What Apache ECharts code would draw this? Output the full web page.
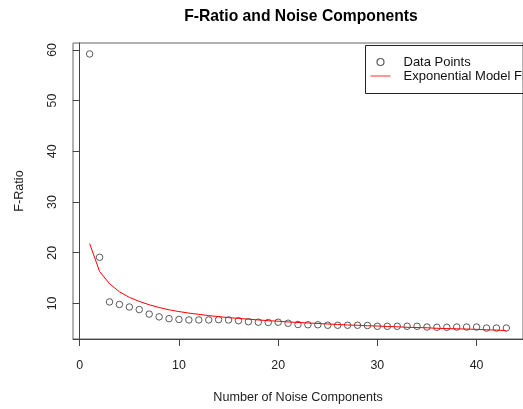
<!DOCTYPE html>
<html>
<head>
<meta charset="utf-8">
<script src="https://cdn.jsdelivr.net/npm/echarts@6/dist/echarts.min.js"></script>
<style>html,body{margin:0;padding:0;background:#fff;}#c{width:523px;height:409px;}</style>
</head>
<body>
<div id="c"></div>
<script>
const components = [1,2,3,4,5,6,7,8,9,10,11,12,13,14,15,16,17,18,19,20,21,22,23,24,25,26,27,28,29,30,31,32,33,34,35,36,37,38,39,40,41,42,43];
const fRatio = [59.2,19.1,10.3,9.8,9.3,8.8,7.9,7.35,7.0,6.85,6.75,6.75,6.75,6.8,6.75,6.6,6.4,6.3,6.25,6.3,6.1,5.85,5.8,5.8,5.7,5.7,5.7,5.7,5.65,5.5,5.5,5.5,5.5,5.5,5.35,5.3,5.3,5.35,5.35,5.35,5.15,5.15,5.15];
const modelFit = [21.8,16.3,13.9,12.3,11.2,10.4,9.75,9.2,8.75,8.4,8.1,7.85,7.6,7.4,7.2,7.05,6.9,6.75,6.6,6.5,6.35,6.25,6.15,6.05,5.95,5.85,5.75,5.7,5.6,5.55,5.45,5.4,5.3,5.25,5.2,5.1,5.05,5.0,4.95,4.9,4.8,4.75,4.65];
const xTicks = [0,10,20,30,40];
const yTicks = [10,20,30,40,50,60];
const seriesNames = ['Data Points','Exponential Model Fit'];

const chart = echarts.init(document.getElementById('c'), null, {renderer:'canvas'});
const font = 'Liberation Sans, Arial, sans-serif';
const axisCol = '#444';
chart.setOption({
  animation: false,
  backgroundColor: '#fff',
  title: {
    text: 'F-Ratio and Noise Components',
    left: 296, top: 4, textAlign: 'center',
    textStyle: {fontFamily: font, fontSize: 15.7, fontWeight: 'bold', color: '#000'}
  },
  grid: {left: 73, top: 43, right: -7, bottom: 65.7, show: true, borderColor: '#666', borderWidth: 1, containLabel: false},
  xAxis: {
    type: 'value', min: -0.68, max: 44.68,
    name: 'Number of Noise Components', nameLocation: 'middle', nameGap: 52,
    nameTextStyle: {fontFamily: font, fontSize: 12.6, color: '#222'},
    axisLine: {show: true, lineStyle: {color: axisCol, width: 1}},
    axisTick: {show: true, length: 7, customValues: xTicks, lineStyle: {color: axisCol}},
    axisLabel: {customValues: xTicks, margin: 21, fontFamily: font, fontSize: 12.4, color: '#222'},
    splitLine: {show: false}
  },
  yAxis: {
    type: 'value', min: 2.99, max: 61.36,
    name: 'F-Ratio', nameLocation: 'middle', nameGap: 47,
    nameTextStyle: {fontFamily: font, fontSize: 12.6, color: '#222'},
    axisLine: {show: true, lineStyle: {color: axisCol, width: 1}},
    axisTick: {show: true, length: 7, customValues: yTicks, lineStyle: {color: axisCol}},
    axisLabel: {customValues: yTicks, rotate: 90, margin: 14, fontFamily: font, fontSize: 12.4, color: '#222'},
    splitLine: {show: false}
  },
  legend: {
    orient: 'vertical', left: 370, top: 55, padding: 0,
    itemWidth: 20, itemHeight: 7, itemGap: 0,
    textStyle: {fontFamily: font, fontSize: 13, lineHeight: 14, color: '#111', padding: [0,0,0,8]},
    data: [
      {name: seriesNames[0], icon: 'circle', itemStyle: {color: 'transparent', borderColor: '#333', borderWidth: 1.2}},
      {name: seriesNames[1], itemStyle: {color: 'transparent', borderWidth: 0, borderColor: 'transparent'}, lineStyle: {color: '#ff3030', width: 1}}
    ]
  },
  graphic: [{
    type: 'rect', left: 363, top: 43,
    shape: {x: 0, y: 0, width: 200, height: 48},
    style: {fill: 'none', stroke: '#222', lineWidth: 1}, z: 10
  }],
  series: [
    {
      name: seriesNames[0], type: 'scatter',
      data: components.map((c, i) => [c, fRatio[i]]),
      symbol: 'circle', symbolSize: 6.5,
      itemStyle: {color: 'transparent', borderColor: '#333', borderWidth: 1}, z: 2
    },
    {
      name: seriesNames[1], type: 'line',
      data: components.map((c, i) => [c, modelFit[i]]),
      symbol: 'none', lineStyle: {color: '#ff0000', width: 1}, itemStyle: {color: '#ff0000'}, z: 3
    }
  ]
});
</script>
</body>
</html>
